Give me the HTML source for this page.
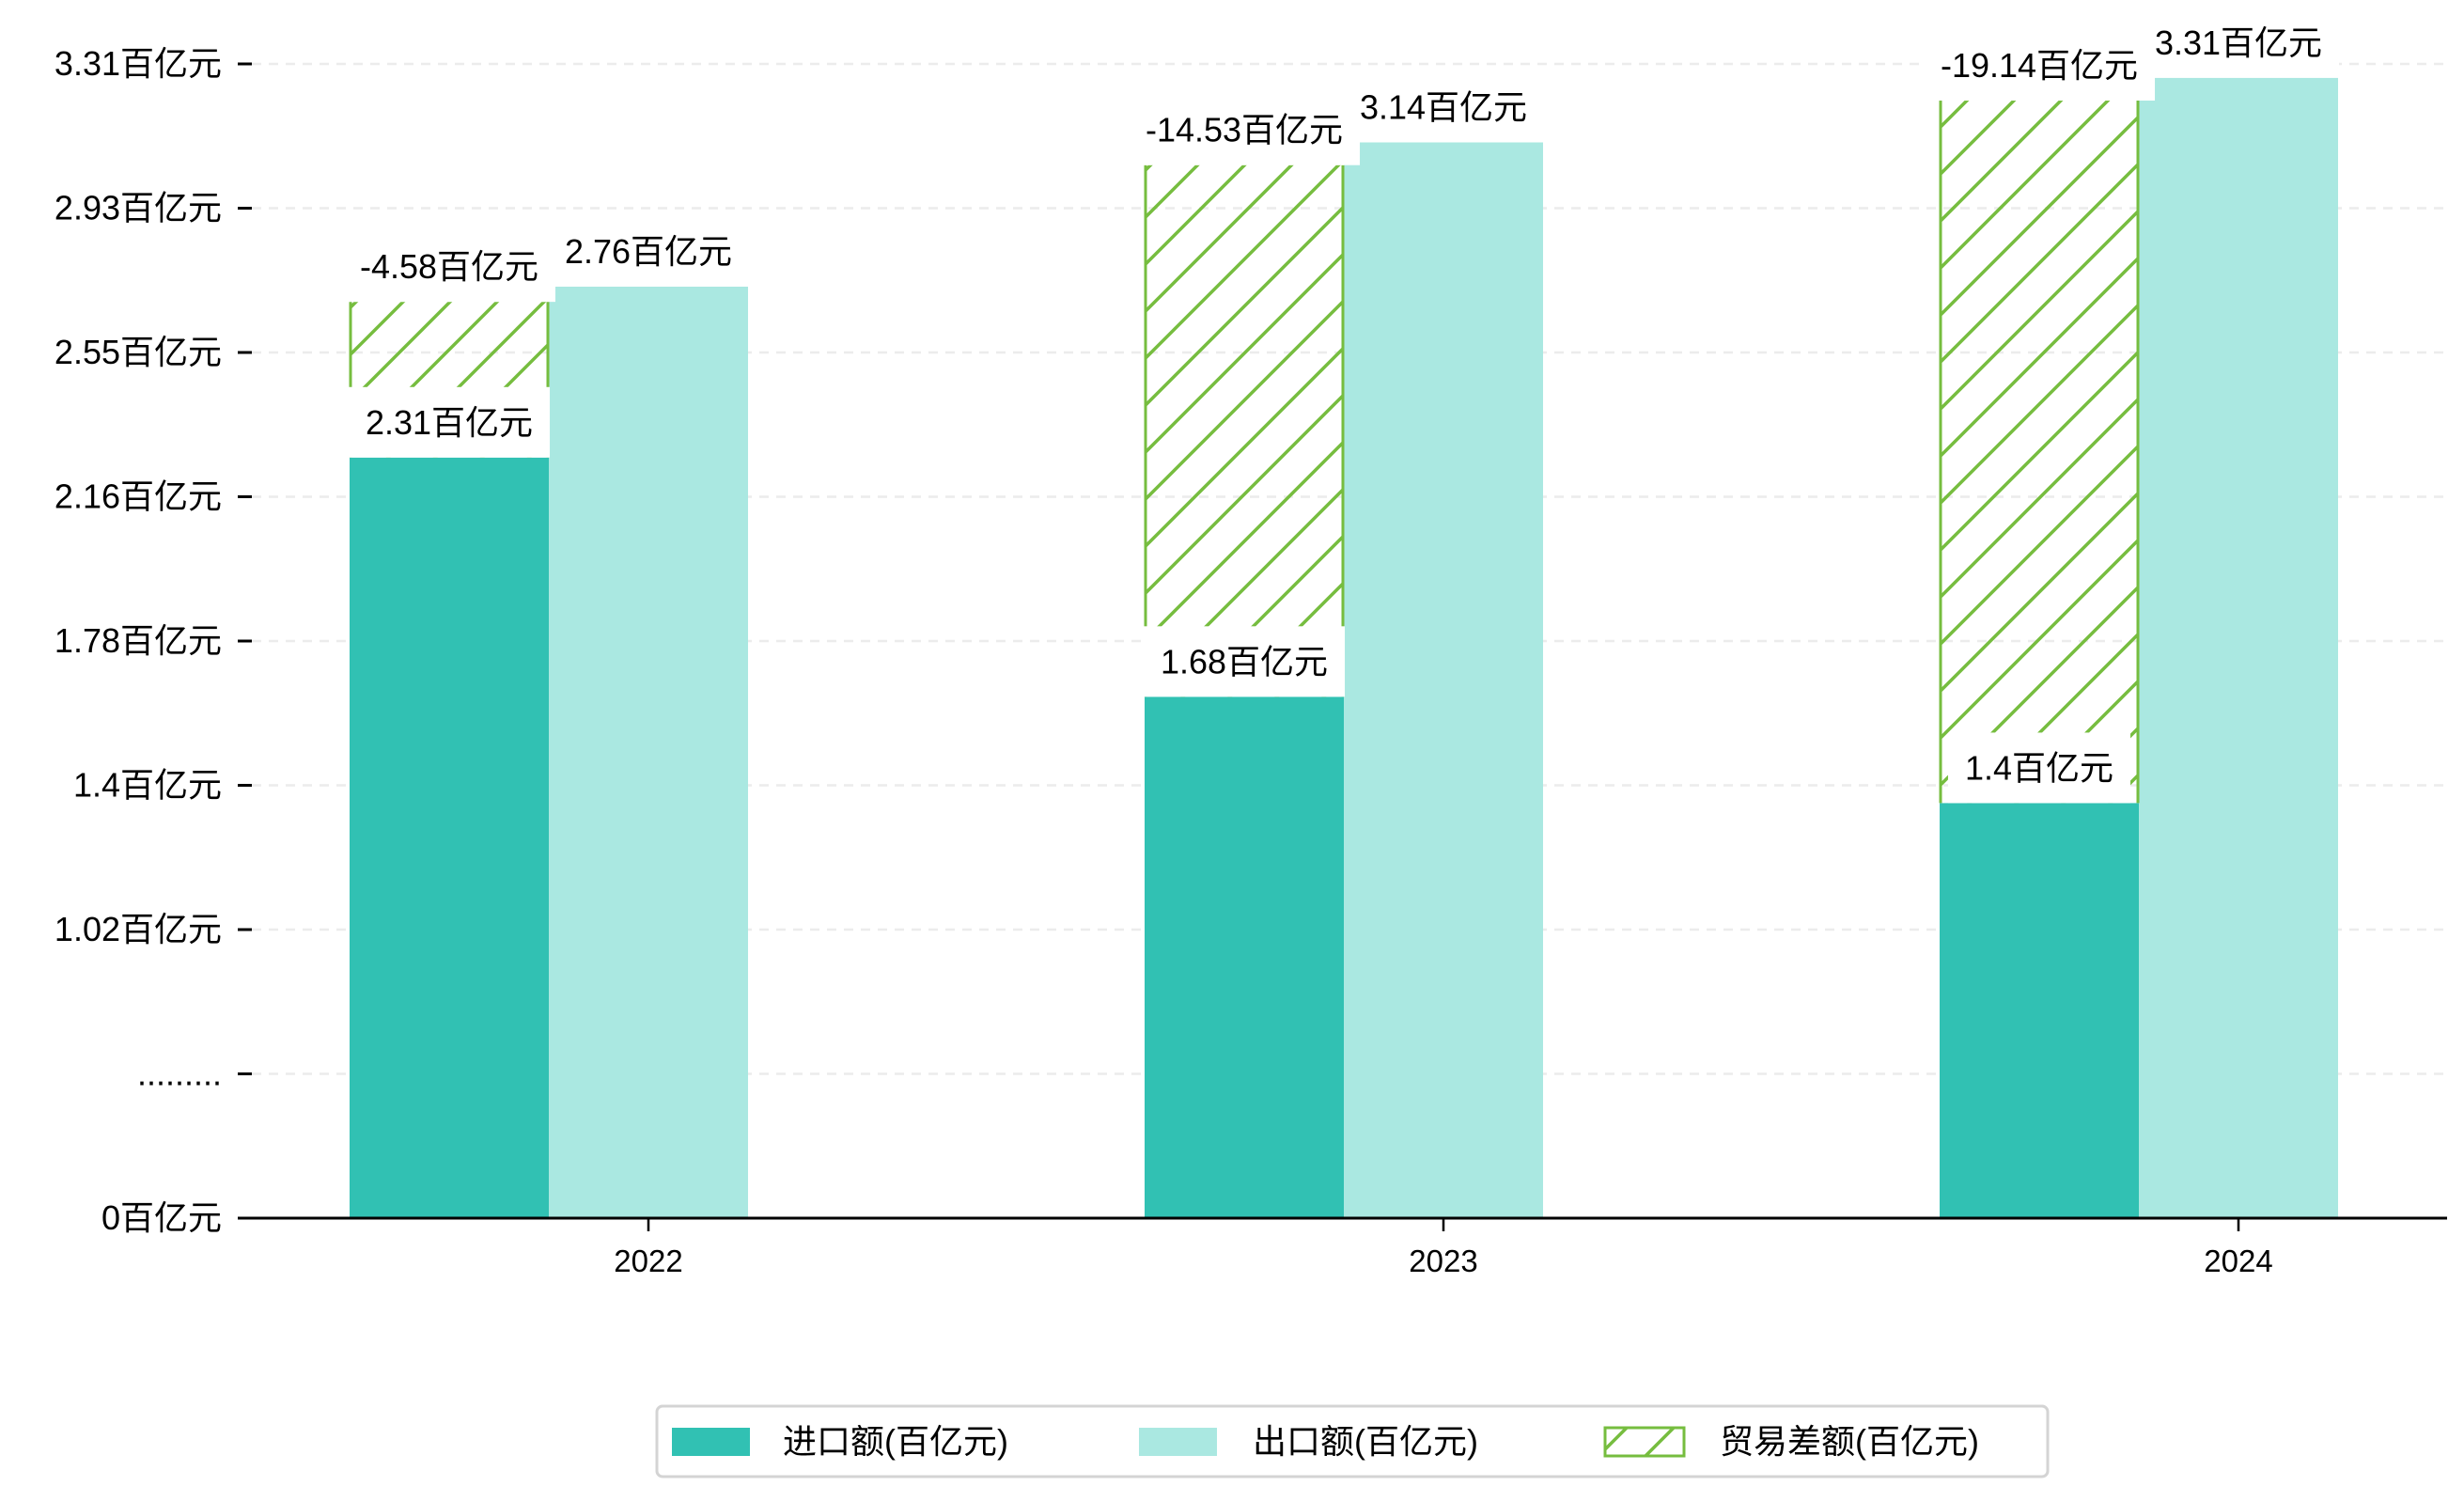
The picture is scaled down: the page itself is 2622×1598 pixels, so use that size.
<!DOCTYPE html>
<html><head><meta charset="utf-8"><style>
html,body{margin:0;padding:0;background:#fff;}
svg{display:block;font-family:"Liberation Sans","WenQuanYi Zen Hei","Noto Sans CJK SC",sans-serif;}
</style></head><body>
<svg id="chart" width="2622" height="1598" viewBox="0 0 2622 1598" xmlns="http://www.w3.org/2000/svg">
<defs>
<pattern id="hatch" patternUnits="userSpaceOnUse" width="50" height="50">
<path d="M-5,5 L5,-5 M0,50 L50,0 M45,55 L55,45" stroke="#76bd3f" stroke-width="3.5"/>
</pattern>
</defs>
<g id="grid"></g>
<g id="bars"></g>
<g id="labels"></g>
<g id="axes"></g>
<g id="legend">
<rect x="699" y="1496" width="1480" height="75" rx="6" fill="#fff" stroke="#d4d4d4" stroke-width="3"/>
<g>
<rect x="715" y="1519" width="83" height="30" fill="#31c1b3"/>
<text x="833" y="1546" font-size="36">进口额(百亿元)</text></g>
<g>
<rect x="1212" y="1519" width="83" height="30" fill="#aae8e1"/>
<text x="1333" y="1546" font-size="36">出口额(百亿元)</text></g>
<g>
<rect x="1708" y="1519" width="84" height="30" fill="url(#hatch)" stroke="#76bd3f" stroke-width="3"/>
<text x="1830" y="1546" font-size="36">贸易差额(百亿元)</text></g>
</g>
</svg>
<script>
const categories = ["2022","2023","2024"];
const importValues = [2.31, 1.68, 1.40];
const exportValues = [2.76, 3.14, 3.31];
const balanceValues = [0.41, 1.40, 1.85];
const importLabels = ["2.31百亿元","1.68百亿元","1.4百亿元"];
const exportLabels = ["2.76百亿元","3.14百亿元","3.31百亿元"];
const balanceLabels = ["-4.58百亿元","-14.53百亿元","-19.14百亿元"];
const yTickLabels = ["0百亿元",".........","1.02百亿元","1.4百亿元","1.78百亿元","2.16百亿元","2.55百亿元","2.93百亿元","3.31百亿元"];

const NS="http://www.w3.org/2000/svg";
const axisY=1296, plotL=253, plotR=2604, barW=212;
function xCenter(i){return 690+i*846;}
function yScale(v){return axisY-(v-0.307)*404;}
function yTick(i){return axisY-i*153.5;}
function mk(tag,attrs,parent){const e=document.createElementNS(NS,tag);for(const k in attrs)e.setAttribute(k,attrs[k]);parent.appendChild(e);return e;}
const grid=document.getElementById('grid'),bars=document.getElementById('bars'),labels=document.getElementById('labels'),axes=document.getElementById('axes');

yTickLabels.forEach((t,i)=>{
  const y=yTick(i);
  if(i>0){const g=mk('line',{x1:268,x2:plotR,y1:y,y2:y,stroke:'#ececec','stroke-width':2.5,'stroke-dasharray':'10,8'},grid);
  
  }
  const tk=mk('line',{x1:253,x2:268,y1:y,y2:y,stroke:'#000','stroke-width':3},axes);
  
  
  const tx=mk('text',{x:236,y:y+12,'font-size':36,'text-anchor':'end'},axes);
  tx.textContent=t;
  
  
});

function addLabel(text,cx,bottom,name){
  const t=mk('text',{x:cx,y:bottom-25,'font-size':36,'text-anchor':'middle'},labels);
  t.textContent=text;
  const w=t.getComputedTextLength();
  const r=mk('rect',{x:cx-w/2-18,y:bottom-75,width:w+36,height:75,fill:'#fff'},labels);
  labels.insertBefore(r,t);
  
  
  
  
}

categories.forEach((c,i)=>{
  const cx=xCenter(i);
  const iTop=yScale(importValues[i]), eTop=yScale(exportValues[i]);
  const bTop=yScale(importValues[i]+balanceValues[i]);
  const b1=mk('rect',{x:cx-318,y:iTop,width:barW,height:axisY-iTop,fill:'#31c1b3'},bars);
  
  
  const b2=mk('rect',{x:cx-106,y:eTop,width:barW,height:axisY-eTop,fill:'#aae8e1'},bars);
  
  
  const b3=mk('rect',{x:cx-318,y:bTop,width:barW,height:iTop-bTop,fill:'url(#hatch)'},bars);
  
  
  const e1=mk('line',{x1:cx-317,x2:cx-317,y1:bTop,y2:iTop,stroke:'#76bd3f','stroke-width':3},bars);
  
  
  const e2=mk('line',{x1:cx-107,x2:cx-107,y1:bTop,y2:iTop,stroke:'#76bd3f','stroke-width':3},bars);
  
  
  const xt=mk('line',{x1:cx,x2:cx,y1:axisY,y2:axisY+14,stroke:'#000','stroke-width':2.5},axes);
  
  
  const xl=mk('text',{x:cx,y:axisY+57,'font-size':33,'text-anchor':'middle'},axes);
  xl.textContent=c;
  
  
});
categories.forEach((c,i)=>{
  const cx=xCenter(i);
  addLabel(importLabels[i],cx-212,yScale(importValues[i]),'import-label-'+c);
  addLabel(exportLabels[i],cx,yScale(exportValues[i]),'export-label-'+c);
  addLabel(balanceLabels[i],cx-212,yScale(importValues[i]+balanceValues[i]),'balance-label-'+c);
});
const ax=mk('line',{x1:plotL,x2:plotR,y1:axisY,y2:axisY,stroke:'#000','stroke-width':3},axes);


</script>
</body></html>
